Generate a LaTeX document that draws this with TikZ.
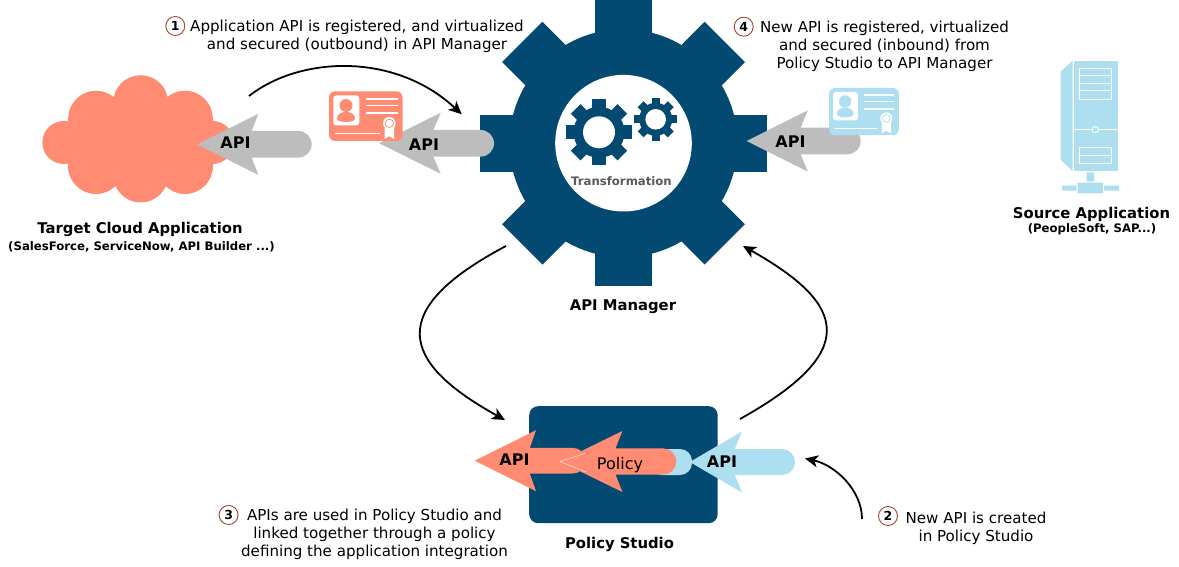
\documentclass[tikz,border=0pt]{standalone}
\usepackage{fontspec}
\setmainfont{DejaVu Sans}
\usetikzlibrary{arrows.meta}
\definecolor{navy}{HTML}{034A73}
\definecolor{salmon}{HTML}{FF8C72}
\definecolor{skyb}{HTML}{ADDFF1}
\definecolor{graya}{HTML}{BDBDBD}
\definecolor{ringc}{HTML}{A5442C}
\definecolor{transc}{HTML}{5A5A5A}
\tikzset{
  x=1pt,y=-1pt,
  bodytext/.style={font=\fontsize{15.1}{18}\selectfont,align=center,inner sep=0pt,text=black},
  headtext/.style={font=\fontsize{14.8}{18}\selectfont\bfseries,align=center,inner sep=0pt,text=black},
  subtext/.style={font=\fontsize{11.7}{14}\selectfont\bfseries,align=center,inner sep=0pt,text=black},
  apitext/.style={font=\fontsize{16}{18}\selectfont\bfseries,inner sep=0pt,text=black},
  numring/.style={circle,draw=ringc,line width=0.9pt,fill=white,minimum size=19pt,inner sep=0pt,font=\fontsize{12.5}{12}\selectfont\bfseries},
  flow/.style={line width=1.8pt,black,-{Stealth[length=13pt,width=12pt,inset=3.5pt]}},
}
% gear: cx cy body tip halfwidth hole colour
\newcommand{\gearat}[6]{%
  \begin{scope}[shift={(#1,#2)}]
    \fill[navy] (0,0) circle[radius=#3];
    \foreach \a in {0,45,...,315}{
      \fill[navy,rotate=\a] (-#5,-#4) rectangle (#5,0);
    }
    \fill[white] (0,0) circle[radius=#6];
  \end{scope}}
% arrow: tip, cy, backx, notchx, endx, headhalf, shafthalf, colour
\newcommand{\pointer}[8]{%
  \fill[#8] (#1,#2) -- (#3,#2-#6) -- (#4,#2-#7) -- (#5-#7,#2-#7)
    arc[start angle=90,end angle=-90,radius=#7,y radius=-#7]
    -- (#4,#2+#7) -- (#3,#2+#6) -- cycle;}
% card: x y scale colour
\newcommand{\idcard}[4]{%
  \begin{scope}[shift={(#1,#2)},scale=#3]
    \fill[#4,rounded corners=6pt] (0,0) rectangle (73.5,49.7);
    \fill[white,rounded corners=3pt] (4.3,4.2) rectangle (30.3,34.2);
    \fill[#4] (17,14.2) circle[radius=6.5];
    \fill[#4] (8,27) .. controls (8,18.5) and (26,18.5) .. (26,27) .. controls (26,32) and (8,32) .. (8,27) -- cycle;
    \draw[white,line width=1.8pt] (36.7,7.5) -- (68.5,7.5) (36.7,14.2) -- (68.5,14.2) (36.7,21.8) -- (68.5,21.8);
    \draw[white,line width=1.2pt] (6,42.6) -- (51,42.6);
    \fill[white] (55.7,36) -- (65,36) -- (65,47.7) -- (60.3,45) -- (55.7,47.7) -- cycle;
    \fill[white] (60.3,32) circle[radius=6.3];
    \draw[#4,line width=0.7pt] (60.3,32) circle[radius=4.2];
  \end{scope}}
\begin{document}
\begin{tikzpicture}
\useasboundingbox (0,0) rectangle (1179,567);
% cloud
\fill[salmon] (140.7,102.7) circle[radius=27.5]
  (96,118.5) circle[radius=27.8] (185,118.5) circle[radius=27.8]
  (63.8,142.5) circle[radius=21.5] (212.5,142.5) circle[radius=21.5]
  (96,166) circle[radius=28] (185,166) circle[radius=28]
  (140.7,175) circle[radius=27.5];
\fill[salmon] (68,118) rectangle (213,166) (96,102) rectangle (185,180);
% left pointer
\pointer{197.3}{144.3}{258.3}{251.7}{311.7}{30.5}{13.3}{graya}
% gears
\gearat{623.5}{143.2}{114}{143.2}{28.5}{68.3}
\pointer{379.3}{143.3}{440.7}{433.3}{494}{30.5}{13.3}{graya}
\idcard{329}{91.3}{1}{salmon}
\pointer{746.7}{141}{807.7}{800.7}{860.7}{30.5}{13.3}{graya}
\idcard{829}{88}{0.95}{skyb}
\gearat{599}{132.3}{25.5}{33}{6.8}{16}
\gearat{655.7}{119.3}{16.5}{21.3}{4.2}{10.3}
% policy box
\node[fill=navy,rounded corners=9pt,inner sep=0pt,minimum width=188.5pt,minimum height=117pt,anchor=north west] (studio) at (529,406) {};
\fill[skyb,rounded corners=12pt] (650,449) rectangle (692,475);
\pointer{474.7}{460.7}{536}{529.8}{585.7}{30.5}{12.8}{salmon}
\pointer{689.8}{462}{742}{734.7}{795}{30.5}{13}{skyb}
\pointer{560}{461.5}{622.4}{615.5}{676.3}{30.5}{13.1}{salmon}
\draw[white!75!salmon,line width=0.5pt] (586,453) -- (560,461.5) -- (586,472);
% server
\begin{scope}
  \fill[skyb] (1060.7,71.7) -- (1072.7,60.7) -- (1072.7,171) -- (1060.7,160) -- cycle;
  \fill[skyb] (1073.5,60.7) rectangle (1117.7,171);
  \draw[white,line width=1pt] (1073.3,129.5) -- (1117.7,129.5);
  \draw[white,line width=1pt,fill=skyb] (1095.3,129.7) circle[radius=3.2];
  \draw[white,line width=1pt] (1079.3,68.3) rectangle (1111.7,99.3)
     (1079.3,76) -- (1111.7,76) (1079.3,83.5) -- (1111.7,83.5) (1079.3,91) -- (1111.7,91);
  \draw[white,line width=1pt] (1079.3,147.7) rectangle (1111.7,163.3) (1079.3,155.5) -- (1111.7,155.5);
  \fill[skyb] (1086.7,172.3) rectangle (1094,181.7) (1077.7,182.7) rectangle (1103,193.3)
     (1062,185.7) rectangle (1076.7,190.7) (1104,185.7) rectangle (1119,190.7);
\end{scope}
% connector ends
\coordinate (c1a) at (249,96);  \coordinate (c1b) at (461.7,114.3);
\coordinate (c2a) at (506,246); \coordinate (c2b) at (505,420);
\coordinate (c3a) at (740,419); \coordinate (c3b) at (743,246);
\coordinate (c4a) at (862,519); \coordinate (c4b) at (805,458.5);
\draw[flow] (c1a) .. controls (300,56) and (395,52) .. (c1b);
\draw[flow] (c2a) .. controls (385,310) and (400,362) .. (c2b);
\draw[flow] (c3a) .. controls (860,352) and (848,305) .. (c3b);
\draw[flow] (c4a) .. controls (862,490) and (835,465) .. (c4b);
% API labels
\node[apitext] (apia) at (235.5,143) {API};
\node[apitext] (apib) at (424,144.5) {API};
\node[apitext] (apic) at (790.5,141.5) {API};
\node[apitext] (apid) at (514.5,460) {API};
\node[apitext] (apie) at (722,461.5) {API};
\node[font=\fontsize{16}{18}\selectfont,inner sep=0pt] (pol) at (620,465) {Policy};
% captions
\node[font=\fontsize{11.7}{13}\selectfont\bfseries,text=transc,inner sep=0pt] (trans) at (621.5,181) {Transformation};
\node[headtext] (apimgr) at (623,306.5) {API Manager};
\node[headtext] (studiocap) at (619.5,544.5) {Policy Studio};
\node[headtext] (target) at (140,229.5) {Target Cloud Application};
\node[subtext] (targetsub) at (141.5,246.5) {(SalesForce, ServiceNow, API Builder ...)};
\node[headtext] (source) at (1091.5,214) {Source Application};
\node[subtext] (sourcesub) at (1092,229.5) {(PeopleSoft, SAP...)};
% numbered notes
\node[numring] (n1) at (175.3,26) {1};
\node[bodytext] (t1) at (357,36) {Application API is registered, and virtualized\\and secured (outbound) in API Manager};
\node[numring] (n4) at (743.7,26.7) {4};
\node[bodytext] (t4) at (884.5,46.5) {New API is registered, virtualized\\and secured (inbound) from\\Policy Studio to API Manager};
\node[numring] (n3) at (228.6,515) {3};
\node[bodytext] (t3) at (374.5,534) {APIs are used in Policy Studio and\\linked together through a policy\\defining the application integration};
\node[numring] (n2) at (888,516) {2};
\node[bodytext] (t2) at (976,528) {New API is created\\in Policy Studio};
\end{tikzpicture}
\end{document}
